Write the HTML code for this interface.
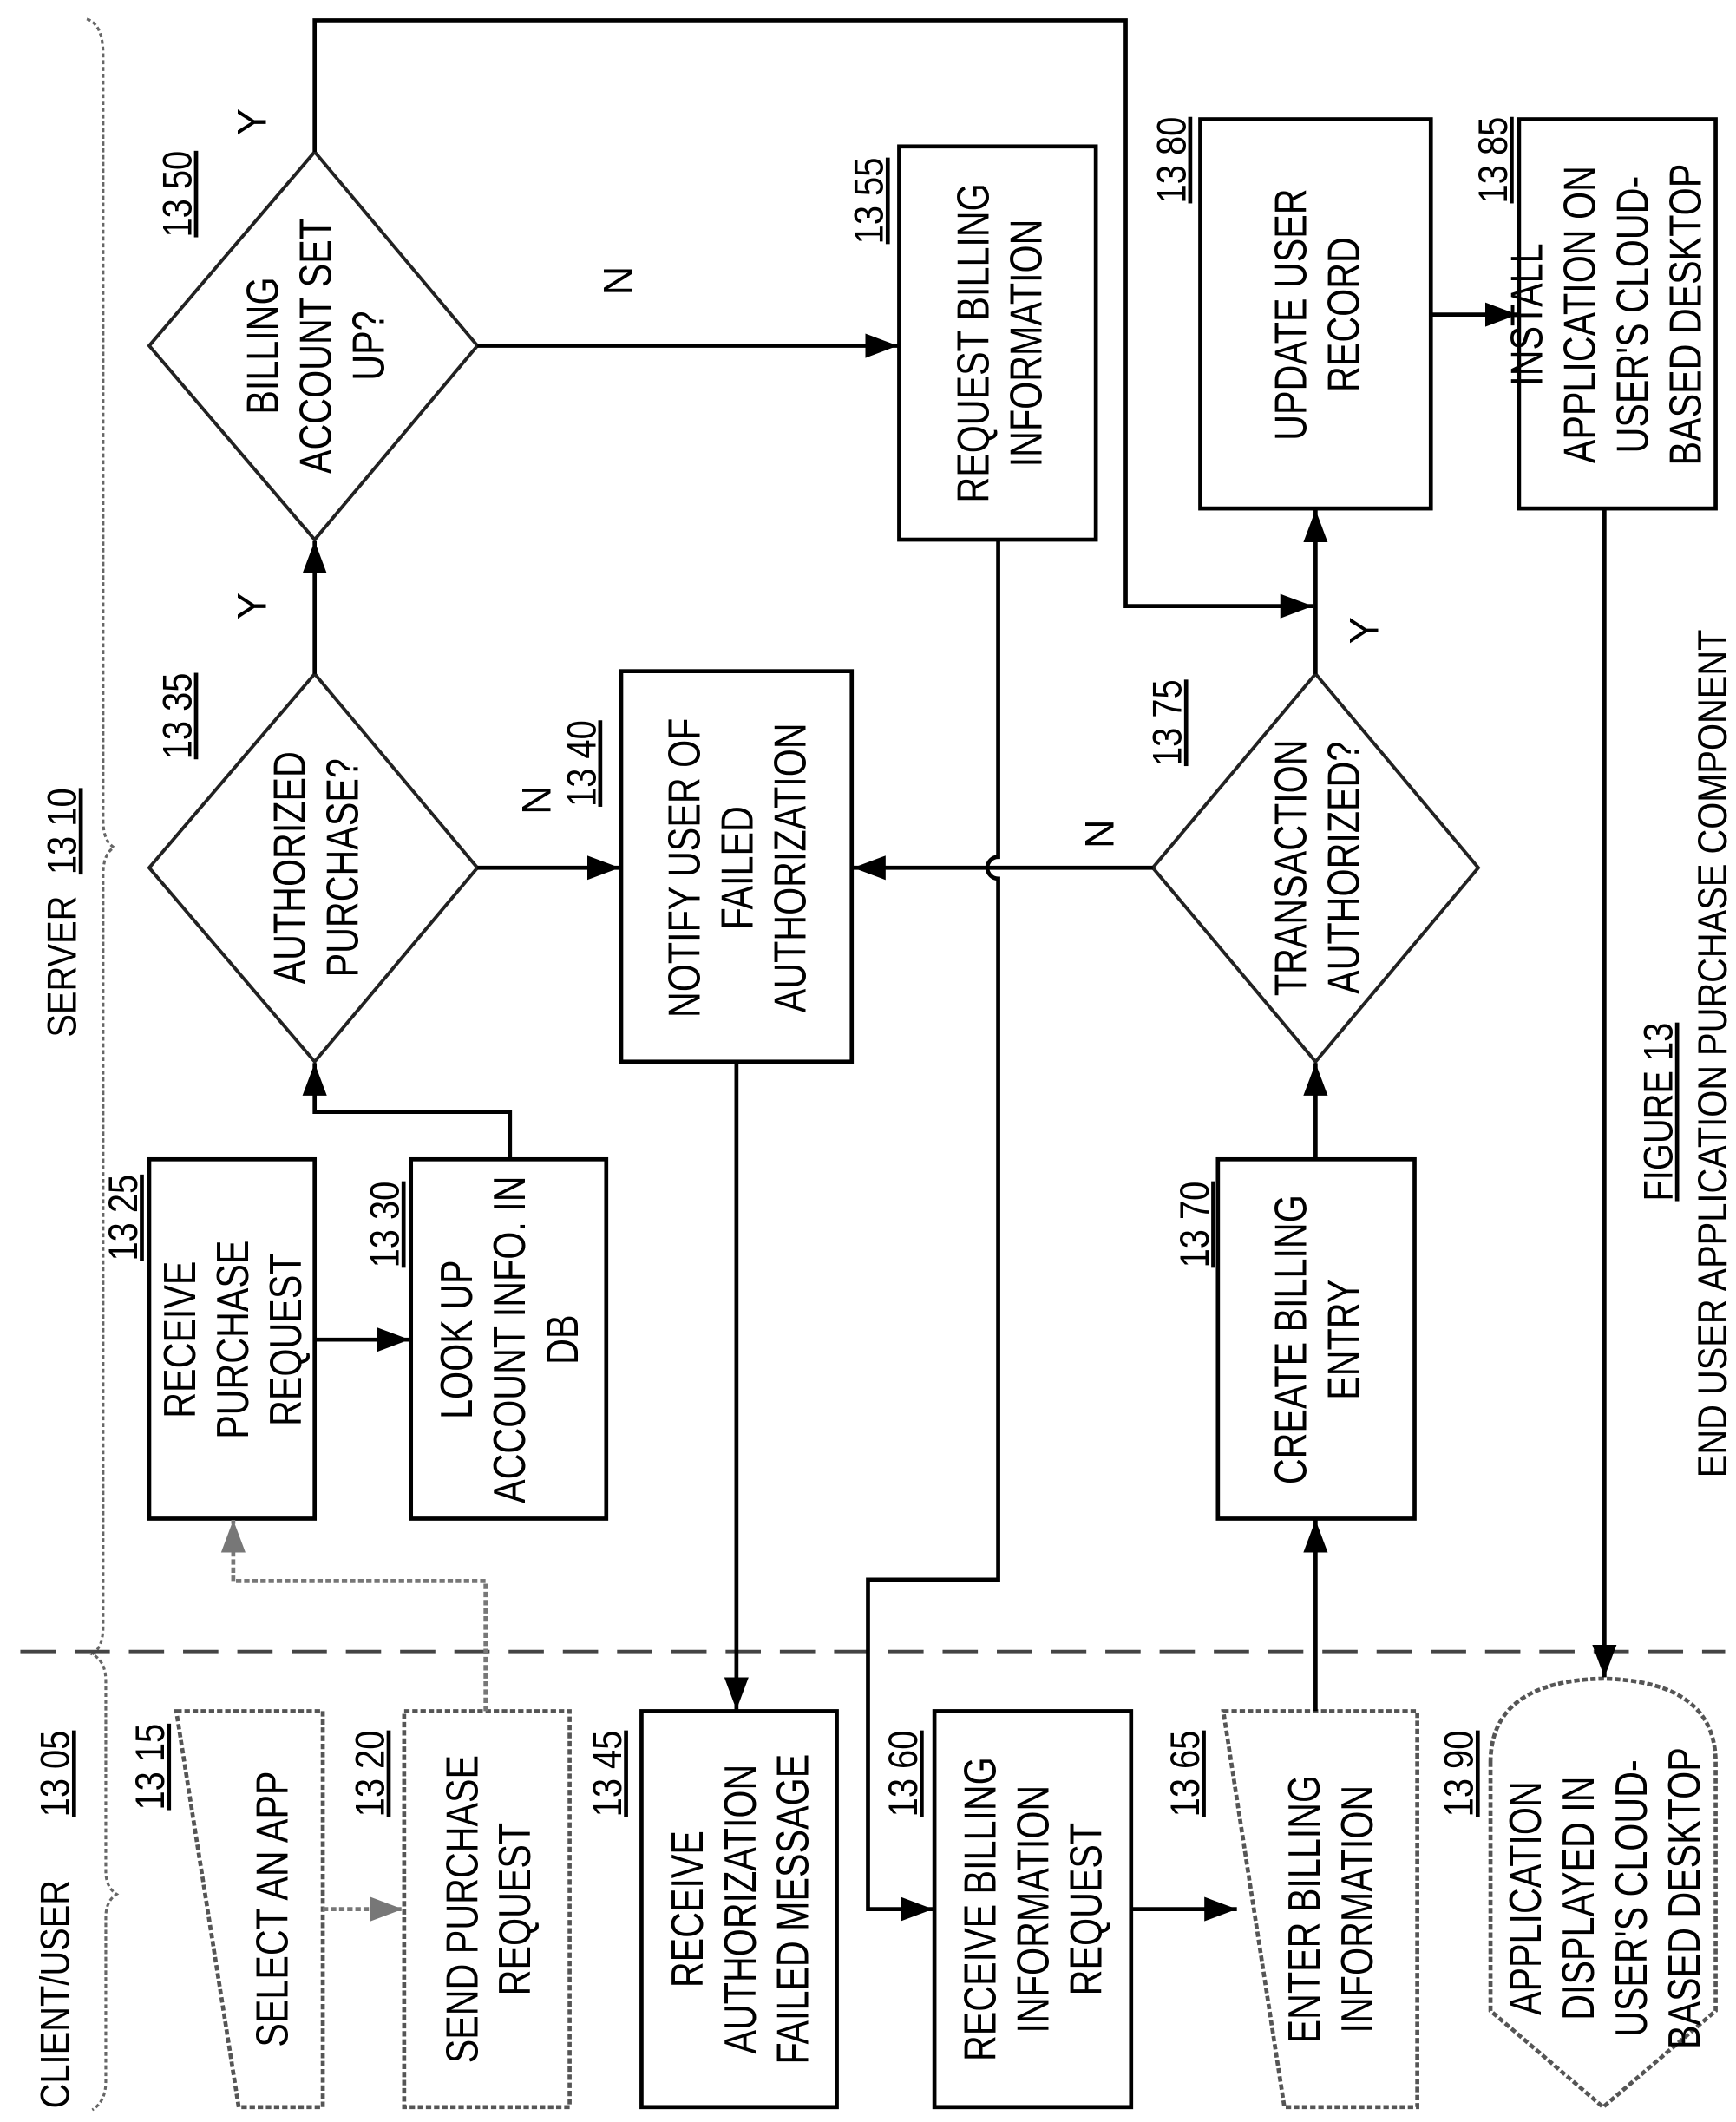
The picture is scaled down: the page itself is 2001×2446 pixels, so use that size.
<!DOCTYPE html>
<html><head><meta charset="utf-8"><style>
html,body{margin:0;padding:0;background:#fff;}
svg{display:block;}
text{font-family:"Liberation Sans",Arial,sans-serif;fill:#000;}
</style></head><body>
<svg width="2001" height="2446" viewBox="0 0 1280 1565" preserveAspectRatio="none" xmlns="http://www.w3.org/2000/svg">
<defs>
<marker id="a" markerUnits="userSpaceOnUse" markerWidth="26" markerHeight="20" refX="24" refY="10" orient="auto"><path d="M0,1 L24,10 L0,19 z" fill="#000"/></marker>
<marker id="g" markerUnits="userSpaceOnUse" markerWidth="26" markerHeight="20" refX="24" refY="10" orient="auto"><path d="M0,1 L24,10 L0,19 z" fill="#777"/></marker>
</defs>
<g fill="none" stroke="#000" stroke-width="3">
<path d="M64,14 Q76,18 76,40 L76,605 Q76,620 84,625 Q76,630 76,645 L76,1200 Q76,1215 68,1220 Q78,1225 78,1240 L78,1380 Q78,1392 86,1397 Q78,1402 78,1414 L78,1535 Q78,1550 68,1556" stroke="#666" stroke-width="2" stroke-dasharray="3,2"/>
<line x1="15" y1="1218" x2="1272" y2="1218" stroke="#444" stroke-width="2.5" stroke-dasharray="26,14"/>
<path d="M130,1262 L238,1262 L238,1554 L176,1554 Z" stroke="#555" stroke-dasharray="4,2"/>
<rect x="298" y="1262" width="122" height="292" stroke="#555" stroke-dasharray="4,2"/>
<rect x="473" y="1262" width="144" height="292"/>
<rect x="689" y="1262" width="145" height="292"/>
<path d="M902,1262 L1045,1262 L1045,1554 L947,1554 Z" stroke="#555" stroke-dasharray="4,2"/>
<path d="M1099,1300 Q1099,1240 1182,1238 Q1265,1240 1265,1300 L1265,1483 L1182,1554 L1099,1483 Z" stroke="#555" stroke-dasharray="4,2"/>
<rect x="110" y="855" width="122" height="265"/>
<rect x="303" y="855" width="144" height="265"/>
<path d="M232,497 L352,640 L232,783 L110,640 Z" stroke="#222" stroke-width="2.5"/>
<path d="M232,112 L352,255 L232,398 L110,255 Z" stroke="#222" stroke-width="2.5"/>
<rect x="458" y="495" width="170" height="288"/>
<rect x="663" y="108" width="145" height="290"/>
<path d="M970,497 L1090,640 L970,783 L850,640 Z" stroke="#222" stroke-width="2.5"/>
<rect x="898" y="855" width="145" height="265"/>
<rect x="885" y="88" width="170" height="287"/>
<rect x="1120" y="88" width="145" height="287"/>
<line x1="238" y1="1408" x2="297" y2="1408" stroke="#777" stroke-dasharray="4,2" marker-end="url(#g)"/>
<polyline points="358,1262 358,1166 172,1166 172,1121" stroke="#777" stroke-dasharray="4,2" marker-end="url(#g)"/>
<line x1="232" y1="988" x2="302" y2="988" marker-end="url(#a)"/>
<polyline points="376,855 376,820 232,820 232,784" marker-end="url(#a)"/>
<line x1="232" y1="497" x2="232" y2="399" marker-end="url(#a)"/>
<line x1="352" y1="640" x2="457" y2="640" marker-end="url(#a)"/>
<polyline points="232,112 232,15 830,15 830,447 968,447" marker-end="url(#a)"/>
<line x1="352" y1="255" x2="662" y2="255" marker-end="url(#a)"/>
<path d="M736,398 L736,632 A8,8 0 0 0 736,648 L736,1165 L640,1165 L640,1408 L688,1408" marker-end="url(#a)"/>
<line x1="543" y1="783" x2="543" y2="1261" marker-end="url(#a)"/>
<line x1="850" y1="640" x2="629" y2="640" marker-end="url(#a)"/>
<line x1="970" y1="497" x2="970" y2="376" marker-end="url(#a)"/>
<line x1="970" y1="855" x2="970" y2="784" marker-end="url(#a)"/>
<line x1="970" y1="1262" x2="970" y2="1121" marker-end="url(#a)"/>
<line x1="834" y1="1408" x2="912" y2="1408" marker-end="url(#a)"/>
<line x1="1055" y1="232" x2="1119" y2="232" marker-end="url(#a)"/>
<line x1="1183" y1="375" x2="1183" y2="1237" marker-end="url(#a)"/>
</g>
<g font-size="33">
<g transform="translate(200,1408) rotate(-90) scale(0.8,1)" text-anchor="middle"><text y="12">SELECT AN APP</text></g>
<g transform="translate(359,1408) rotate(-90) scale(0.8,1)" text-anchor="middle"><text y="-7">SEND PURCHASE</text><text y="32">REQUEST</text></g>
<g transform="translate(545,1408) rotate(-90) scale(0.8,1)" text-anchor="middle"><text y="-27">RECEIVE</text><text y="12">AUTHORIZATION</text><text y="51">FAILED MESSAGE</text></g>
<g transform="translate(761,1408) rotate(-90) scale(0.8,1)" text-anchor="middle"><text y="-27">RECEIVE BILLING</text><text y="12">INFORMATION</text><text y="51">REQUEST</text></g>
<g transform="translate(980,1408) rotate(-90) scale(0.8,1)" text-anchor="middle"><text y="-7">ENTER BILLING</text><text y="32">INFORMATION</text></g>
<g transform="translate(1182,1400) rotate(-90) scale(0.8,1)" text-anchor="middle"><text y="-46">APPLICATION</text><text y="-7">DISPLAYED IN</text><text y="32">USER'S CLOUD-</text><text y="71">BASED DESKTOP</text></g>
<g transform="translate(171,988) rotate(-90) scale(0.8,1)" text-anchor="middle"><text y="-27">RECEIVE</text><text y="12">PURCHASE</text><text y="51">REQUEST</text></g>
<g transform="translate(375,988) rotate(-90) scale(0.8,1)" text-anchor="middle"><text y="-27">LOOK UP</text><text y="12">ACCOUNT INFO. IN</text><text y="51">DB</text></g>
<g transform="translate(232,640) rotate(-90) scale(0.8,1)" text-anchor="middle"><text y="-7">AUTHORIZED</text><text y="32">PURCHASE?</text></g>
<g transform="translate(232,255) rotate(-90) scale(0.8,1)" text-anchor="middle"><text y="-27">BILLING</text><text y="12">ACCOUNT SET</text><text y="51">UP?</text></g>
<g transform="translate(543,640) rotate(-90) scale(0.8,1)" text-anchor="middle"><text y="-27">NOTIFY USER OF</text><text y="12">FAILED</text><text y="51">AUTHORIZATION</text></g>
<g transform="translate(736,253) rotate(-90) scale(0.8,1)" text-anchor="middle"><text y="-7">REQUEST BILLING</text><text y="32">INFORMATION</text></g>
<g transform="translate(970,640) rotate(-90) scale(0.8,1)" text-anchor="middle"><text y="-7">TRANSACTION</text><text y="32">AUTHORIZED?</text></g>
<g transform="translate(970,988) rotate(-90) scale(0.8,1)" text-anchor="middle"><text y="-7">CREATE BILLING</text><text y="32">ENTRY</text></g>
<g transform="translate(970,232) rotate(-90) scale(0.8,1)" text-anchor="middle"><text y="-7">UPDATE USER</text><text y="32">RECORD</text></g>
<g transform="translate(1183,232) rotate(-90) scale(0.8,1)" text-anchor="middle"><text y="-46">INSTALL</text><text y="-7">APPLICATION ON</text><text y="32">USER'S CLOUD-</text><text y="71">BASED DESKTOP</text></g>
<g transform="translate(185,90) rotate(-90)" text-anchor="middle"><text y="11" font-size="30">Y</text></g>
<g transform="translate(185,447) rotate(-90)" text-anchor="middle"><text y="11" font-size="30">Y</text></g>
<g transform="translate(455,207) rotate(-90)" text-anchor="middle"><text y="11" font-size="30">N</text></g>
<g transform="translate(395,590) rotate(-90)" text-anchor="middle"><text y="11" font-size="30">N</text></g>
<g transform="translate(810,615) rotate(-90)" text-anchor="middle"><text y="11" font-size="30">N</text></g>
<g transform="translate(1005,465) rotate(-90)" text-anchor="middle"><text y="11" font-size="30">Y</text></g>
</g>
<g font-size="30">
<g transform="translate(40,1555) rotate(-90) scale(0.85,1)"><text y="11">CLIENT/USER</text></g>
<g transform="translate(40,1340) rotate(-90) scale(0.85,1)"><text y="11" text-decoration="underline">13 05</text></g>
<g transform="translate(45,765) rotate(-90) scale(0.85,1)"><text y="11">SERVER</text></g>
<g transform="translate(45,645) rotate(-90) scale(0.85,1)"><text y="11" text-decoration="underline">13 10</text></g>
<g text-decoration="underline">
<g transform="translate(110,1335) rotate(-90) scale(0.85,1)"><text y="11">13 15</text></g>
<g transform="translate(272,1340) rotate(-90) scale(0.85,1)"><text y="11">13 20</text></g>
<g transform="translate(447,1340) rotate(-90) scale(0.85,1)"><text y="11">13 45</text></g>
<g transform="translate(665,1340) rotate(-90) scale(0.85,1)"><text y="11">13 60</text></g>
<g transform="translate(873,1340) rotate(-90) scale(0.85,1)"><text y="11">13 65</text></g>
<g transform="translate(1075,1340) rotate(-90) scale(0.85,1)"><text y="11">13 90</text></g>
<g transform="translate(90,930) rotate(-90) scale(0.85,1)"><text y="11">13 25</text></g>
<g transform="translate(283,935) rotate(-90) scale(0.85,1)"><text y="11">13 30</text></g>
<g transform="translate(130,560) rotate(-90) scale(0.85,1)"><text y="11">13 35</text></g>
<g transform="translate(428,595) rotate(-90) scale(0.85,1)"><text y="11">13 40</text></g>
<g transform="translate(130,175) rotate(-90) scale(0.85,1)"><text y="11">13 50</text></g>
<g transform="translate(640,180) rotate(-90) scale(0.85,1)"><text y="11">13 55</text></g>
<g transform="translate(860,565) rotate(-90) scale(0.85,1)"><text y="11">13 75</text></g>
<g transform="translate(880,935) rotate(-90) scale(0.85,1)"><text y="11">13 70</text></g>
<g transform="translate(863,150) rotate(-90) scale(0.85,1)"><text y="11">13 80</text></g>
<g transform="translate(1100,150) rotate(-90) scale(0.85,1)"><text y="11">13 85</text></g>
<g transform="translate(1222,820) rotate(-90) scale(0.85,1)" text-anchor="middle"><text y="11">FIGURE 13</text></g>
</g>
<g transform="translate(1262,777) rotate(-90) scale(0.85,1)" text-anchor="middle"><text y="11">END USER APPLICATION PURCHASE COMPONENT</text></g>
</g>
</svg>
</body></html>
